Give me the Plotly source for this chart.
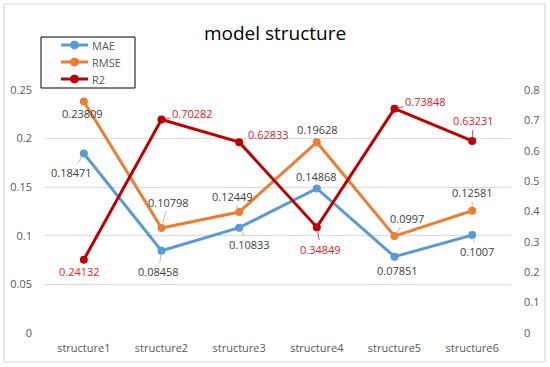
import plotly.graph_objects as go

categories = ["structure1", "structure2", "structure3", "structure4", "structure5", "structure6"]
mae = [0.18471, 0.08458, 0.10833, 0.14868, 0.07851, 0.1007]
rmse = [0.23809, 0.10798, 0.12449, 0.19628, 0.0997, 0.12581]
r2 = [0.24132, 0.70282, 0.62833, 0.34849, 0.73848, 0.63231]
series_names = ["MAE", "RMSE", "R2"]
left_ticks = [0, 0.05, 0.1, 0.15, 0.2, 0.25]
right_ticks = [0, 0.1, 0.2, 0.3, 0.4, 0.5, 0.6, 0.7, 0.8]

C_MAE = "#5B9BD5"
C_RMSE = "#ED7D31"
C_R2 = "#C00000"
series_colors = [C_MAE, C_RMSE, C_R2]
LABEL_GRAY = "#404040"
LABEL_RED = "#E0202A"

# label offsets in pixels (dx, dy) relative to the point, and whether a leader line is drawn
mae_off = [(-12, 19, True), (-3, 21, True), (10, 17, True), (0, -12, False), (3, 14, True), (5, 16, True)]
rmse_off = [(-1, 12, False), (7, -26, True), (-7, -16, True), (1, -13, True), (12, -18, True), (0, -18, True)]
r2_off = [(-4, 12, False), (31, -6, True), (29, -8, False), (4, 22, True), (31, -7, True), (1, -20, True)]

fig = go.Figure()
line_w = 3
fig.add_trace(go.Scatter(x=categories, y=mae, name="MAE", mode="lines+markers",
                         line=dict(color=C_MAE, width=line_w), marker=dict(size=8, color=C_MAE)))
fig.add_trace(go.Scatter(x=categories, y=rmse, name="RMSE", mode="lines+markers",
                         line=dict(color=C_RMSE, width=line_w), marker=dict(size=8, color=C_RMSE)))
fig.add_trace(go.Scatter(x=categories, y=r2, name="R2", mode="lines+markers", yaxis="y2",
                         line=dict(color=C_R2, width=line_w), marker=dict(size=8, color=C_R2)))

annotations = []
def add_labels(vals, offs, yref, color, lcolor):
    for c, v, (dx, dy, lead) in zip(categories, vals, offs):
        txt = f"{v}"
        if lead:
            annotations.append(dict(x=c, y=v, xref="x", yref=yref, text=txt, showarrow=True,
                                    ax=dx, ay=dy, arrowhead=0, arrowwidth=0.8, arrowcolor=lcolor,
                                    standoff=3, font=dict(size=11, color=color)))
        else:
            annotations.append(dict(x=c, y=v, xref="x", yref=yref, text=txt, showarrow=False,
                                    xshift=dx, yshift=-dy, font=dict(size=11, color=color)))

add_labels(mae, mae_off, "y", LABEL_GRAY, "#A6A6A6")
add_labels(rmse, rmse_off, "y", LABEL_GRAY, "#A6A6A6")
add_labels(r2, r2_off, "y2", LABEL_RED, "#E0202A")

L, R, T, B = 45, 39, 90, 34
W, H = 550, 367
pw, ph = W - L - R, H - T - B
def px(p):
    return (p - L) / pw
def py(p):
    return (H - B - p) / ph

shapes = [dict(type="rect", xref="paper", yref="paper", x0=px(4), x1=px(545), y0=py(362), y1=py(4),
               line=dict(color="#D9D9D9", width=1.2), fillcolor="rgba(0,0,0,0)", layer="below")]

# legend box (drawn to match the compact spacing of the original)
shapes.append(dict(type="rect", xref="paper", yref="paper", x0=px(41), x1=px(135), y0=py(88), y1=py(37),
                   line=dict(color="#000000", width=1), fillcolor="white"))
leg_y = [45, 62, 79]
for name, col, yy in zip(series_names, series_colors, leg_y):
    shapes.append(dict(type="line", xref="paper", yref="paper", x0=px(61), x1=px(88), y0=py(yy), y1=py(yy),
                       line=dict(color=col, width=3)))
    shapes.append(dict(type="circle", xref="paper", yref="paper", x0=px(70.5), x1=px(78.5),
                       y0=py(yy + 4), y1=py(yy - 4), line=dict(color=col, width=1), fillcolor=col))
    annotations.append(dict(x=px(90), y=py(yy), xref="paper", yref="paper", text=name, showarrow=False,
                            xanchor="left", yanchor="middle", font=dict(size=11, color="#595959")))

fig.update_layout(
    width=W, height=H,
    margin=dict(l=L, r=R, t=T, b=B, autoexpand=False),
    paper_bgcolor="white", plot_bgcolor="white",
    font=dict(family="Open Sans", size=11, color="#595959"),
    title=dict(text="model structure", x=px(275), xref="paper", xanchor="center",
               y=1 - 33 / H, yref="container", yanchor="middle",
               font=dict(family="Open Sans", size=19, color="#000000")),
    xaxis=dict(range=[-0.5, 5.5], showgrid=False, showline=False, zeroline=False, ticks="",
               ticklabelstandoff=7, tickfont=dict(size=11, color="#595959")),
    yaxis=dict(range=[0, 0.25], tickvals=left_ticks, ticktext=[str(t) for t in left_ticks],
               showgrid=True, gridcolor="#D9D9D9", gridwidth=1, zeroline=False,
               showline=False, ticks="", ticklabelstandoff=12,
               tickfont=dict(size=11, color="#595959")),
    yaxis2=dict(range=[0, 0.8], tickvals=right_ticks, ticktext=[str(t) for t in right_ticks],
                overlaying="y", side="right", showgrid=False, zeroline=False, showline=False,
                ticks="", ticklabelstandoff=12, tickfont=dict(size=11, color="#595959")),
    showlegend=False,
    annotations=annotations,
    shapes=shapes,
)

fig.write_html("out.html", config={"displayModeBar": False},
               post_script="document.body.style.margin='0';")
